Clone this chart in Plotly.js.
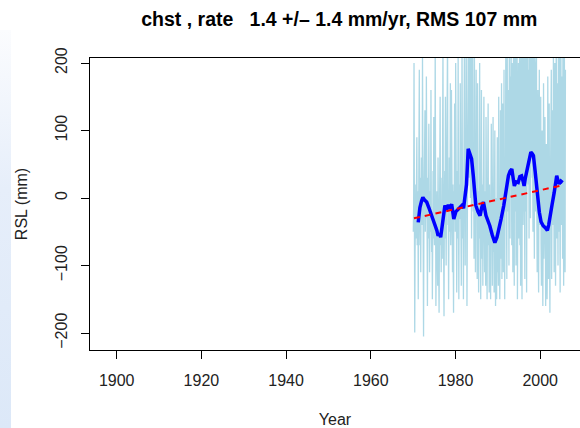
<!DOCTYPE html>
<html>
<head>
<meta charset="utf-8">
<script src="https://cdn.plot.ly/plotly-3.0.1.min.js"></script>
<style>
  html, body { margin: 0; padding: 0; background: #ffffff; }
  #strip { position: absolute; left: 0; top: 30px; width: 11px; height: 398px;
           background: linear-gradient(to bottom, #fbfcfe 0%, #e6eefa 40%, #dce8f8 100%); z-index: 0; }
  #chart { position: absolute; left: 0; top: 0; width: 580px; height: 428px; z-index: 1; }
</style>
</head>
<body>
<div id="strip"></div>
<div id="chart"></div>
<script>
// Monthly RSL (mm), 1970 .. 2005 (one row per year)
const startYear = 1970;
const monthlyRSL = [
  -50, -10, 200, -40, -199, -80, -30, 20, -60, -20, 90, -70,
  -40, 10, -150, -60, 0, 190, -20, -70, 30, -110, -10, 60,
  20, -40, 210, 10, -60, -205, -30, 40, 0, 130, -50, 10,
  -30, 180, 20, -40, -160, -20, 30, -60, 110, 0, -110, -20,
  10, -50, 160, -30, -80, -20, -150, 0, 40, -60, 120, -40,
  -70, -20, 220, -60, -160, -90, -30, 10, -80, -130, 60, -50,
  -30, -170, -60, 0, 150, -70, -20, -110, -40, 30, -90, 10,
  230, 0, -50, -175, -20, 40, -60, 150, -10, -100, 30, -30,
  20, 240, -40, -20, -150, 10, 60, -50, 0, 170, -70, -30,
  160, -10, -60, -110, 20, -40, -170, 10, -30, 140, 30, -50,
  200, 10, -40, -140, -10, 40, -60, 210, 0, -150, 20, -30,
  -30, 170, 20, -50, -130, 0, 230, 30, -60, 10, -150, 190,
  -20, 260, 50, -100, 30, 0, 220, 60, -160, 40, 10, 240,
  280, 70, 30, 120, 250, 40, 0, 300, 90, -60, 60, 200,
  230, 30, -20, 60, -90, 260, 10, 50, -110, 40, 190, -20,
  20, -120, 170, -30, 10, -140, -40, 0, 200, -60, -20, -150,
  30, 160, -30, -90, 20, -130, 0, 40, 150, -50, -110, 10,
  -60, -130, 120, -20, 0, -150, -40, 10, 140, -70, -20, -140,
  20, -60, -30, -150, -10, 110, -70, -30, -130, 0, 120, -80,
  -20, -140, -60, 100, -90, -160, -40, 0, -150, -80, 90, -110,
  -80, -130, 150, -60, -20, -150, -50, 130, -90, 0, 170, -120,
  20, 140, -40, -110, 10, 190, -30, -150, 40, -20, 210, -90,
  60, -120, 250, 20, -20, 160, 0, -100, 230, 50, -60, 180,
  20, 270, 60, -70, 200, 10, -110, 50, 240, 0, -130, 290,
  -20, 40, 210, -100, 30, 0, 260, -150, 50, 10, 200, -60,
  40, 230, -70, 60, -130, 280, 20, 0, -150, 220, 50, -40,
  10, 250, -80, 40, -120, 270, 30, -20, 210, -140, 50, 170,
  300, 80, 20, 190, -60, 260, 90, 40, -30, 280, 60, 130,
  240, 30, 80, -50, 290, 60, 10, -90, 260, 70, -20, 190,
  30, 210, -20, -110, 40, 160, -60, -140, 10, 190, -40, 20,
  -20, 150, -70, -130, -10, 100, -60, -160, -30, 170, -90, -50,
  -60, 120, -20, -160, -70, 80, -30, -150, -90, 180, -40, -120,
  10, 140, -60, -170, -30, 50, -10, 190, -120, -40, 130, 0,
  -40, 230, 30, -110, 40, 200, -20, -130, 20, 260, 50, -60,
  170, 10, -100, 240, 40, -50, 220, 20, -140, 60, 270, 30,
  -40, 180, 40, -90, 250, 20, -130, 60, 230, 0, -110, 190
];

// Smoothed RSL (mm)
const smoothYears = [1971.2, 1971.6, 1972.0, 1972.3, 1972.7, 1973.2, 1973.7, 1974.4, 1974.8, 1975.2,
  1975.6, 1975.9, 1976.2, 1976.5, 1976.9, 1977.2, 1977.5, 1977.9, 1978.3, 1978.7,
  1979.1, 1979.4, 1979.6, 1980.1, 1980.7, 1981.1, 1981.5, 1981.9, 1982.2, 1982.6,
  1983.0, 1983.3, 1983.8, 1984.2, 1984.5, 1984.8, 1985.3, 1985.8, 1986.2, 1986.6,
  1987.2, 1987.6, 1988.1, 1988.7, 1989.3, 1989.8, 1990.3, 1990.8, 1991.4, 1991.9,
  1992.5, 1992.9, 1993.3, 1993.6, 1993.9, 1994.3, 1994.8, 1995.2, 1995.6, 1996.0,
  1996.2, 1996.5, 1996.8, 1997.3, 1997.8, 1998.1, 1998.4, 1998.8, 1999.2, 1999.8,
  2000.2, 2000.7, 2001.2, 2001.7, 2002.0, 2002.3, 2002.8, 2003.3, 2003.9, 2004.2,
  2004.5, 2004.9, 2005.3];
const smoothRSL = [-36, -14, -4, 1, -3, -6, -14, -26, -32, -41,
  -48, -56, -52, -58, -38, -20, -11, -17, -10, -16,
  -9, -22, -31, -20, -16, -12, -11, -15, 3, 20,
  73, 68, 58, 33, 8, -11, -20, -26, -14, -6,
  -26, -32, -41, -55, -66, -58, -46, -30, -11, 8,
  33, 40, 43, 30, 18, 24, 23, 32, 33, 24,
  18, 30, 38, 52, 68, 66, 63, 40, 13, -21,
  -35, -41, -44, -48, -40, -26, -10, 8, 33, 26,
  21, 25, 23];

// Linear trend endpoints
const trendYears = [1970.2, 2005.3];
const trendRSL = [-30, 19];

const xTicks = [1900, 1920, 1940, 1960, 1980, 2000];
const yTicks = [-200, -100, 0, 100, 200];

const monthlyYears = monthlyRSL.map((v, i) => startYear + (i + 0.5) / 12);

const font = "Liberation Sans, Arial, Helvetica, sans-serif";

const traces = [
  { x: monthlyYears, y: monthlyRSL, type: 'scatter', mode: 'lines',
    line: { color: '#add8e6', width: 1.3 }, hoverinfo: 'skip' },
  { x: smoothYears, y: smoothRSL, type: 'scatter', mode: 'lines',
    line: { color: '#0000ff', width: 3.5 } },
  { x: trendYears, y: trendRSL, type: 'scatter', mode: 'lines',
    line: { color: '#ff0000', width: 2, dash: '6px,5px' } }
];

const layout = {
  width: 580, height: 428,
  margin: { l: 90, r: 0, t: 58, b: 78 },
  paper_bgcolor: 'rgba(0,0,0,0)',
  plot_bgcolor: '#ffffff',
  showlegend: false,
  font: { family: font, size: 16, color: '#000000' },
  title: { text: 'chst , rate   1.4 +/\u2013 1.4 mm/yr, RMS 107 mm',
           font: { family: font, size: 19.5, color: '#000000', weight: 'bold' },
           x: 0.585, xanchor: 'center', y: 0.956, yanchor: 'middle' },
  xaxis: {
    range: [1893.7, 2009.4], tickvals: xTicks, ticktext: xTicks.map(String),
    showgrid: false, zeroline: false, showline: true, mirror: true,
    linecolor: '#000000', linewidth: 1,
    ticks: 'outside', ticklen: 8, tickcolor: '#000000', tickwidth: 1,
    ticklabelstandoff: 8,
    tickfont: { family: font, size: 16, color: '#222222' },
    title: { text: 'Year', font: { family: font, size: 16, color: '#222222' }, standoff: 25 }
  },
  yaxis: {
    range: [-225, 207.4], tickvals: yTicks,
    ticktext: yTicks.map(v => v < 0 ? '\u2212' + Math.abs(v) : String(v)),
    tickangle: -90,
    showgrid: false, zeroline: false, showline: true, mirror: true,
    linecolor: '#000000', linewidth: 1,
    ticks: 'outside', ticklen: 8, tickcolor: '#000000', tickwidth: 1,
    ticklabelstandoff: 8,
    tickfont: { family: font, size: 16, color: '#222222' },
    title: { text: 'RSL (mm)', font: { family: font, size: 16, color: '#222222' }, standoff: 20 }
  }
};

Plotly.newPlot('chart', traces, layout, { staticPlot: true, displayModeBar: false });
</script>
</body>
</html>
